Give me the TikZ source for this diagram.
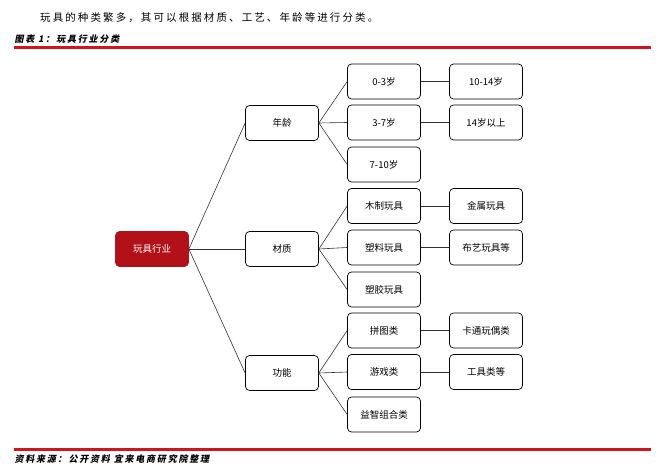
\documentclass[tikz,border=0pt]{standalone}
\usepackage{fontspec}
\setmainfont{Liberation Serif}
\newfontfamily\cjk{Noto Sans CJK SC}
\newfontfamily\cjksp[LetterSpace=20]{Noto Sans CJK SC}
\definecolor{hdred}{RGB}{210,20,30}
\begin{document}
\begin{tikzpicture}[x=1pt,y=-1pt,
  bx/.style={draw=black,line width=0.7pt,rounded corners=4pt,minimum width=73pt,minimum height=35pt,font=\cjk\fontsize{9.5}{11}\selectfont,inner sep=0pt},
  root/.style={bx,fill=hdred!85!black,draw=hdred!85!black,text=white},
  ln/.style={draw=black!80,line width=0.6pt}]
\useasboundingbox (0,0) rectangle (660,465);
\node[anchor=west,font=\cjksp\fontsize{10.5}{12}\selectfont,inner sep=0pt] (intro) at (40,18) {玩具的种类繁多，其可以根据材质、工艺、年龄等进行分类。};
\node[anchor=west,font=\cjksp\bfseries\fontsize{9}{11}\selectfont,xslant=0.2,inner sep=0pt] (cap) at (15,39) {图表 1：玩具行业分类};
\fill[hdred] (14,46) rectangle (651,48.6);
\fill[hdred] (14,448) rectangle (651,450.6);
\node[anchor=west,font=\cjksp\bfseries\fontsize{9}{11}\selectfont,xslant=0.2,inner sep=0pt] (src) at (15,459) {资料来源：公开资料 宜来电商研究院整理};
\node[root] (r) at (152,249) {玩具行业};
\node[bx] (a) at (282,123) {年龄};
\node[bx] (b) at (282,249) {材质};
\node[bx] (c) at (282,373) {功能};
\node[bx] (a1) at (384,81.5) {0-3岁};
\node[bx] (a2) at (384,122.5) {3-7岁};
\node[bx] (a3) at (384,164.5) {7-10岁};
\node[bx] (b1) at (384,206) {木制玩具};
\node[bx] (b2) at (384,247.5) {塑料玩具};
\node[bx] (b3) at (384,289.5) {塑胶玩具};
\node[bx] (c1) at (384,330.5) {拼图类};
\node[bx] (c2) at (384,372) {游戏类};
\node[bx] (c3) at (384,414.5) {益智组合类};
\node[bx] (a4) at (486,81.5) {10-14岁};
\node[bx] (a5) at (486,122.5) {14岁以上};
\node[bx] (b4) at (486,206) {金属玩具};
\node[bx] (b5) at (486,247.5) {布艺玩具等};
\node[bx] (c4) at (486,330.5) {卡通玩偶类};
\node[bx] (c5) at (486,372) {工具类等};
\foreach \t in {a,b,c} \draw[ln] (r.east) -- (\t.west);
\foreach \p/\t in {a/a1,a/a2,a/a3,b/b1,b/b2,b/b3,c/c1,c/c2,c/c3} \draw[ln] (\p.east) -- (\t.west);
\foreach \p/\t in {a1/a4,a2/a5,b1/b4,b2/b5,c1/c4,c2/c5} \draw[ln] (\p.east) -- (\t.west);
\end{tikzpicture}
\end{document}
